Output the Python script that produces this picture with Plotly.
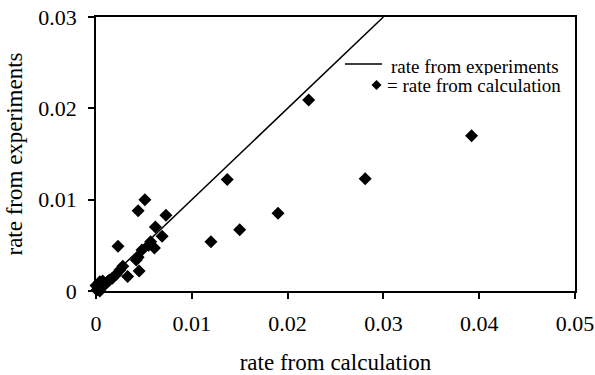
import plotly.graph_objects as go

# rate from calculation (x) and rate from experiments (y)
calc_rate = [0.0392, 0.0281, 0.0222, 0.0137, 0.0190, 0.0150, 0.0120,
             0.0051, 0.0044, 0.0073, 0.0062, 0.0069, 0.0057, 0.0061, 0.0055,
             0.0023, 0.0048, 0.0042, 0.0044, 0.0045, 0.0033, 0.0028, 0.0025,
             0.0021, 0.0017, 0.0014, 0.0012, 0.0010, 0.0008, 0.0006, 0.0005,
             0.0003, 0.0002, 0.0001, 0.0004, 0.0007, 0.0000, 0.0004]
exp_rate = [0.0170, 0.0123, 0.0209, 0.0122, 0.0085, 0.0067, 0.0054,
            0.0100, 0.0088, 0.0083, 0.0070, 0.0060, 0.0054, 0.0047, 0.0050,
            0.0049, 0.0045, 0.0034, 0.0037, 0.0022, 0.0016, 0.0027, 0.0023,
            0.0018, 0.0014, 0.0012, 0.0010, 0.0008, 0.0006, 0.0005, 0.0004,
            0.0003, 0.0002, 0.0001, 0.0010, 0.0011, 0.0006, 0.0000]

# reference line: rate from experiments
line_x = [0.0, 0.03]
line_y = [0.0, 0.03]

x_ticks = [0, 0.01, 0.02, 0.03, 0.04, 0.05]
x_tick_labels = ["0", "0.01", "0.02", "0.03", "0.04", "0.05"]
y_ticks = [0, 0.01, 0.02, 0.03]
y_tick_labels = ["0", "0.01", "0.02", "0.03"]

FONT = "Liberation Serif"

fig = go.Figure()
fig.add_trace(go.Scatter(x=line_x, y=line_y, mode="lines",
                         line=dict(color="black", width=1.5),
                         name="rate from experiments", showlegend=False))
fig.add_trace(go.Scatter(x=calc_rate, y=exp_rate, mode="markers",
                         marker=dict(symbol="diamond", size=10, color="black"),
                         cliponaxis=False,
                         name="rate from calculation", showlegend=False))

# legend drawn manually
lx0, lx1, ly = 0.5198, 0.597, 0.8285
fig.add_shape(type="line", xref="paper", yref="paper", x0=lx0, x1=lx1, y0=ly, y1=ly,
              line=dict(color="black", width=1.5))
dx, dy, cx, cy = 0.0105, 0.0183, 0.5856, 0.7518
fig.add_shape(type="path", xref="paper", yref="paper",
              path=f"M {cx-dx} {cy} L {cx} {cy+dy} L {cx+dx} {cy} L {cx} {cy-dy} Z",
              fillcolor="black", line=dict(color="black", width=0))
fig.add_annotation(text="rate from experiments", xref="paper", yref="paper",
                   x=0.6117, y=0.821, xanchor="left", yanchor="middle", showarrow=False,
                   height=18, font=dict(family=FONT, size=19, color="black"))
fig.add_annotation(text="= rate from calculation", xref="paper", yref="paper",
                   x=0.6033, y=0.7518, xanchor="left", yanchor="middle", showarrow=False,
                   height=18, font=dict(family=FONT, size=19, color="black"))

axis_common = dict(showgrid=False, zeroline=False, showline=True, linecolor="black",
                   linewidth=1.5, mirror=True, ticks="outside", ticklen=6,
                   tickcolor="black", tickwidth=1.5, automargin=False,
                   ticklabeloverflow="allow",
                   tickfont=dict(family=FONT, size=22, color="black"))

fig.update_xaxes(range=[0, 0.05], tickvals=x_ticks, ticktext=x_tick_labels,
                 ticklabelstandoff=6,
                 title=dict(text="rate from calculation", standoff=28,
                            font=dict(family=FONT, size=23, color="black")),
                 **axis_common)
fig.update_yaxes(range=[0, 0.03], tickvals=y_ticks, ticktext=y_tick_labels,
                 ticklabelstandoff=7,
                 title=dict(text="rate from experiments", standoff=9,
                            font=dict(family=FONT, size=23, color="black")),
                 **axis_common)

fig.update_layout(width=595, height=375, margin=dict(l=96, r=20, t=17, b=84),
                  plot_bgcolor="white", paper_bgcolor="white",
                  font=dict(family=FONT, color="black"))

# remove the default page body margin so the figure fills the window exactly
fig.write_html("out.html", config={"displayModeBar": False},
               post_script="document.body.style.margin='0';document.body.style.overflow='hidden';")
